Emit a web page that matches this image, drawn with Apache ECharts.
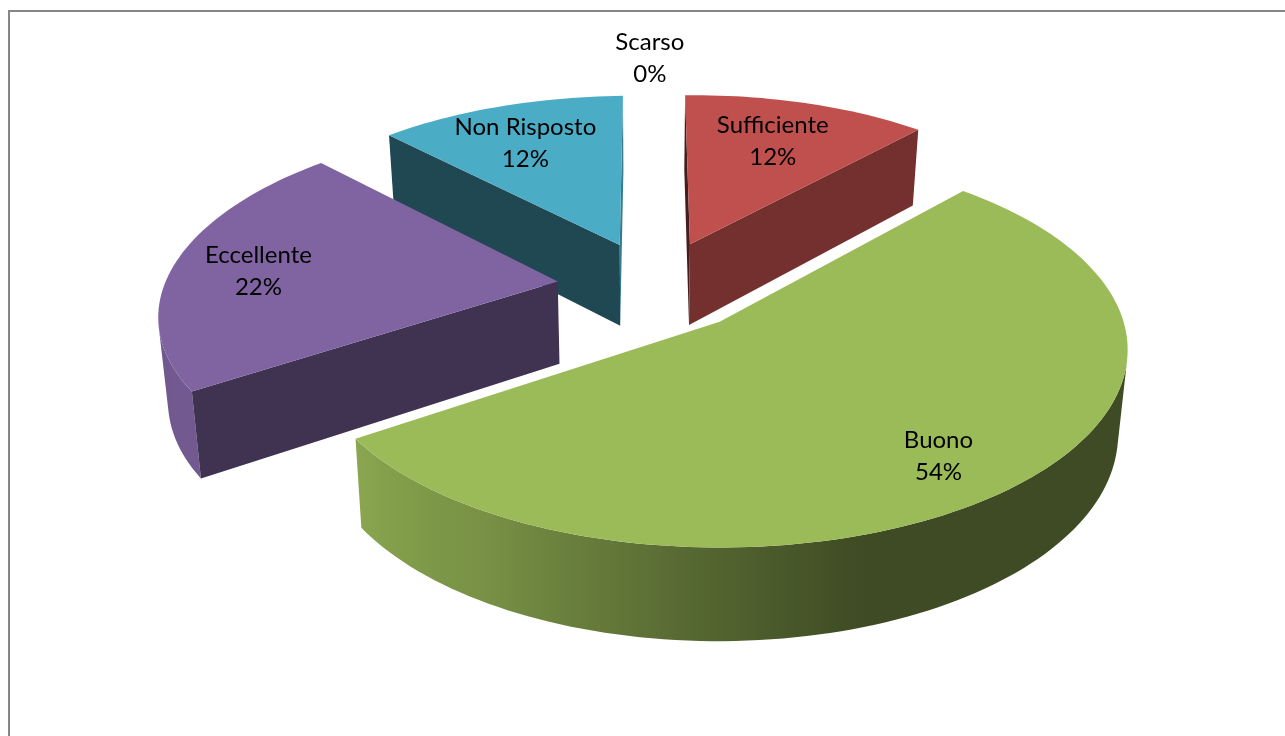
<!DOCTYPE html>
<html><head><meta charset="utf-8">
<style>html,body{margin:0;padding:0;background:#fff}#c{width:1285px;height:736px}</style>
<script src="https://cdn.jsdelivr.net/npm/echarts@6/dist/echarts.min.js"></script>
</head><body><div id="c"></div>
<script>
const categories = ['Scarso','Sufficiente','Buono','Eccellente','Non Risposto'];
const values = [0,12,54,22,12];
const labels = ['0%','12%','54%','22%','12%'];
const colors = ['#4F81BD','#C0504D','#9BBB59','#8064A2','#4BACC6'];
const labelRadius = [1.24,0.69,0.8,0.78,0.70];
const labelNudge = [[-4,0],[-3,0],[-13,7],[0,4],[-6,1]];
const radiusScale = [1,0.975,1,1,0.975];
const drawOrder = [0,1,3,2,0];       // layer of each slice, back to front
const startShade = [1,0.36,0.4,0.5,0.42];
const endShade = [1,0.6,0.4,0.4,0.72];
const wallShade = [[0,0.4],[162,0.4],[180,0.53],[195,0.65],[210,0.77],[236,0.89],[360,0.84]];

// perspective camera for the pie plane
const K=0.141,A=404,B=194,OX=718,OY=322,VX=645,BOTTOM=0.98;
const CX=-0.16,CY=-0.19,EXPLODE=0.25,START=-1.4;
function proj(X,Y,low){
  const s=1/(1-K*Y); let x=OX+A*X*s,y=OY+B*Y*s;
  if(low){x=VX+(x-VX)*BOTTOM;y+=25+59*s;}
  return [x,y];
}
function shade(hex,f){
  const n=parseInt(hex.slice(1),16);
  return 'rgb('+[(n>>16)&255,(n>>8)&255,n&255].map(v=>Math.round(v*f)).join(',')+')';
}
function wallFactor(t){
  t=((t%360)+360)%360;
  for(let i=1;i<wallShade.length;i++){
    if(t<=wallShade[i][0]){
      const a=wallShade[i-1],b=wallShade[i];
      return a[1]+(b[1]-a[1])*(t-a[0])/(b[0]-a[0]);
    }
  }
  return 1;
}
const total=values.reduce((a,b)=>a+b,0);
function sliceAngles(i){
  let acc=0; for(let j=0;j<i;j++) acc+=values[j];
  const a0=START+acc/total*360, a1=a0+values[i]/total*360;
  return [a0,a1,(a0+a1)/2];
}
const rad=d=>d*Math.PI/180;
function area(p){let s=0;for(let i=0;i<p.length;i++){const a=p[i],b=p[(i+1)%p.length];s+=a[0]*b[1]-b[0]*a[1];}return s/2;}

function renderSlice(params,api){
  const i=api.value(0), v=api.value(1);
  if(!v) return {type:'group',children:[]};
  const [a0,a1,m]=sliceAngles(i);
  const ax=CX+EXPLODE*Math.sin(rad(m)), ay=CY-EXPLODE*Math.cos(rad(m));
  const R=radiusScale[i], base=colors[i];
  const pt=t=>[ax+R*Math.sin(rad(t)),ay-R*Math.cos(rad(t))];
  const N=Math.ceil((a1-a0)/1.5), arc=[];
  for(let n=0;n<=N;n++) arc.push(a0+(a1-a0)*n/N);
  const top=[proj(ax,ay)].concat(arc.map(t=>proj(...pt(t))));
  const z=drawOrder[i]*10, children=[];
  // outer wall: only the arc samples whose quad faces the viewer
  const vis=[];
  for(let n=0;n<N;n++){
    const q=[proj(...pt(arc[n])),proj(...pt(arc[n+1])),proj(...pt(arc[n+1]),true),proj(...pt(arc[n]),true)];
    if(area(q)<0){ if(!vis.length||vis[vis.length-1]!==arc[n]) vis.push(arc[n]); vis.push(arc[n+1]); }
  }
  if(vis.length>1){
    const up=vis.map(t=>proj(...pt(t))), lo=vis.map(t=>proj(...pt(t),true)).reverse();
    const xs=up.map(p=>p[0]), x0=Math.min(...xs), x1=Math.max(...xs);
    const stops=vis.map((t,n)=>({offset:(xs[n]-x0)/((x1-x0)||1),color:shade(base,wallFactor(t))})).sort((a,b)=>a.offset-b.offset);
    children.push({type:'polygon',z2:z+1,shape:{points:up.concat(lo)},
      style:{fill:new echarts.graphic.LinearGradient(x0,0,x1,0,stops,true)}});
  }
  // the two cut faces, kept only when they face the viewer
  [[a0,startShade[i],-1],[a1,endShade[i],1]].forEach(([t,f,dir])=>{
    const q=[proj(ax,ay),proj(...pt(t)),proj(...pt(t),true),proj(ax,ay,true)];
    if(area(q)*dir>0) children.push({type:'polygon',z2:z+2,shape:{points:q},style:{fill:shade(base,f)}});
  });
  children.push({type:'polygon',z2:z+3,shape:{points:top},style:{fill:base}});
  return {type:'group',children};
}
function renderLabel(params,api){
  const i=api.value(0);
  const [,,m]=sliceAngles(i);
  const r=EXPLODE+labelRadius[i];
  const X=CX+r*Math.sin(rad(m)), Y=CY-r*Math.cos(rad(m));
  const p=proj(X,Y);
  return {type:'text',z2:100,x:p[0]+labelNudge[i][0],y:p[1]+labelNudge[i][1],style:{text:categories[i]+'\n'+labels[i],
    fill:'#000',font:'24px Lato, "Open Sans", sans-serif',lineHeight:32,align:'center',verticalAlign:'middle'}};
}
const rows=categories.map((c,i)=>[i,values[i]]);
const chart=echarts.init(document.getElementById('c'),null,{renderer:'canvas'});
chart.setOption({
  animation:false,backgroundColor:'#fff',
  graphic:[{type:'rect',z:-10,shape:{x:9,y:11,width:1500,height:1000},style:{fill:'none',stroke:'#868686',lineWidth:2}}],
  series:[
    {type:'custom',coordinateSystem:'none',data:rows,renderItem:renderSlice,silent:true},
    {type:'custom',coordinateSystem:'none',data:rows,renderItem:renderLabel,silent:true}
  ]
});
</script></body></html>
